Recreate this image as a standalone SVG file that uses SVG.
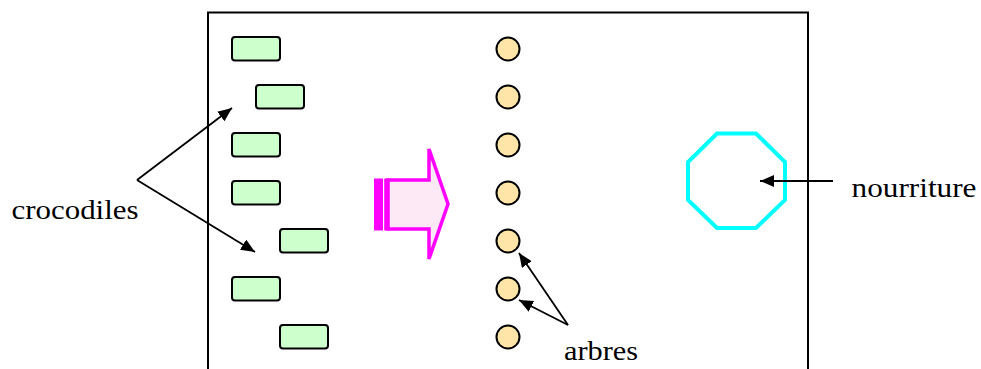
<svg xmlns="http://www.w3.org/2000/svg" width="981" height="369" viewBox="0 0 981 369">
<style>
.croc{fill:#ccffcc;stroke:#000;stroke-width:2}
.tree{fill:#ffe6a8;stroke:#000;stroke-width:2}
.lbl{font-family:"Liberation Serif","Times New Roman",serif;font-size:27.5px;fill:#000}
.con{stroke:#000;stroke-width:1.8;fill:none;marker-end:url(#ah)}
</style>
<defs>
<marker id="ah" markerUnits="userSpaceOnUse" markerWidth="16" markerHeight="14" refX="14" refY="6" orient="auto">
<path d="M0,0 L14,6 L0,12 z" fill="#000"/>
</marker>
</defs>
<rect width="981" height="369" fill="#fff"/>
<path id="frame" d="M208,369 V12.5 H808 V369" fill="none" stroke="#000" stroke-width="2"/>
<g id="crocodiles-nodes">
<g id="croc1"><rect class="croc" x="232" y="37" width="48" height="23.5" rx="3"/></g>
<g id="croc2"><rect class="croc" x="256" y="85" width="48" height="23.5" rx="3"/></g>
<g id="croc3"><rect class="croc" x="232" y="133" width="48" height="23.5" rx="3"/></g>
<g id="croc4"><rect class="croc" x="232" y="181" width="48" height="23.5" rx="3"/></g>
<g id="croc5"><rect class="croc" x="280" y="229" width="48" height="23.5" rx="3"/></g>
<g id="croc6"><rect class="croc" x="232" y="277" width="48" height="23.5" rx="3"/></g>
<g id="croc7"><rect class="croc" x="280" y="325" width="48" height="23.5" rx="3"/></g>
</g>
<g id="trees">
<g id="tree1"><circle class="tree" cx="508" cy="49" r="11.5"/></g>
<g id="tree2"><circle class="tree" cx="508" cy="97" r="11.5"/></g>
<g id="tree3"><circle class="tree" cx="508" cy="145" r="11.5"/></g>
<g id="tree4"><circle class="tree" cx="508" cy="193" r="11.5"/></g>
<g id="tree5"><circle class="tree" cx="508" cy="241" r="11.5"/></g>
<g id="tree6"><circle class="tree" cx="508" cy="289" r="11.5"/></g>
<g id="tree7"><circle class="tree" cx="508" cy="337" r="11.5"/></g>
</g>
<g id="big-arrow">
<polygon points="388,180 429,180 429,149 448,204 429,259 429,229 388,229" fill="#fde8f5" stroke="#ff00ff" stroke-width="3.5"/>
<rect x="374" y="178.5" width="9" height="52" fill="#ff00ff"/>
<rect x="384.2" y="178.5" width="4.5" height="52" fill="#ff00ff"/>
</g>
<g id="food">
<polygon points="717,133.5 756,133.5 785,162 785,200 756,228 717,228 688,200 688,162" fill="none" stroke="#00ffff" stroke-width="4"/>
</g>
<g id="labels">
<text id="lbl-croc" class="lbl" x="11.5" y="218.5" textLength="127" lengthAdjust="spacingAndGlyphs">crocodiles</text>
<text id="lbl-food" class="lbl" x="851.5" y="196.5" textLength="125" lengthAdjust="spacingAndGlyphs">nourriture</text>
<text id="lbl-trees" class="lbl" x="564" y="360" textLength="74" lengthAdjust="spacingAndGlyphs">arbres</text>
</g>
<g id="connectors">
<line class="con" x1="137" y1="180" x2="232" y2="108"/>
<line class="con" x1="137" y1="180" x2="255" y2="252"/>
<line class="con" x1="833" y1="181" x2="760" y2="181"/>
<line class="con" x1="568" y1="325" x2="519" y2="253"/>
<line class="con" x1="568" y1="325" x2="519" y2="300"/>
</g>
</svg>
